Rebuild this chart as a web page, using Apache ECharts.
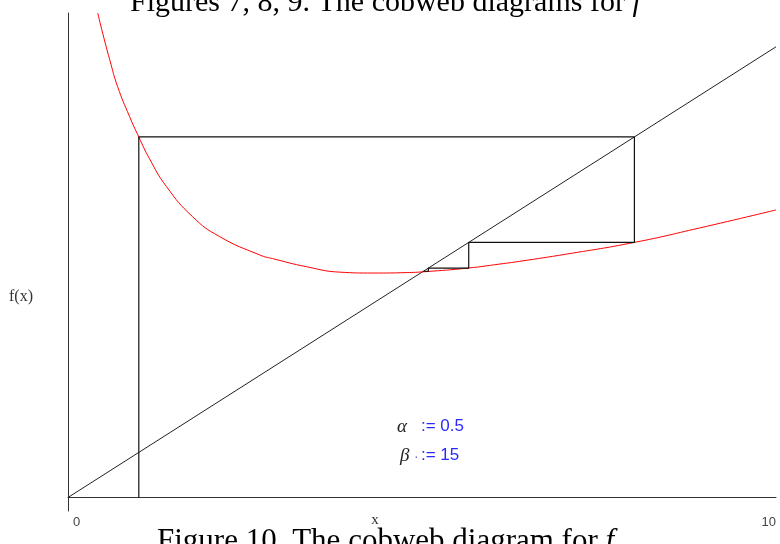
<!DOCTYPE html>
<html>
<head>
<meta charset="utf-8">
<script src="https://cdn.jsdelivr.net/npm/echarts@6/dist/echarts.min.js"></script>
<style>
  html, body { margin: 0; padding: 0; background: #fff; }
  #chart { width: 780px; height: 544px; }
</style>
</head>
<body>
<div id="chart"></div>
<script>
// f(x) sampled along the curve
const curveX = [0.42, 0.49, 0.59, 0.70, 0.87, 1.00, 1.15, 1.39, 1.76, 2.14, 2.71, 2.89, 3.37, 3.84, 4.31, 4.78, 5.04, 5.65, 6.10, 6.38, 7.04, 8.00, 8.92, 10.00];
const curveY = [10.75, 10.30, 9.71, 9.12, 8.45, 8.00, 7.52, 6.90, 6.23, 5.79, 5.38, 5.30, 5.12, 5.00, 4.98, 4.99, 5.01, 5.09, 5.18, 5.24, 5.40, 5.66, 5.98, 6.38];

// identity line y = x
const diagX = [0, 10];
const diagY = [0, 10];

// cobweb iterations starting from x0 = 1
const cobwebX = [1, 1, 8.00, 8.00, 5.66, 5.66, 5.09, 5.09, 5.02];
const cobwebY = [0, 8.00, 8.00, 5.66, 5.66, 5.09, 5.09, 5.02, 5.02];

// axis tick labels
const xTickValues = [0, 10];
const xTickLabels = ['0', '10'];

// parameters
const paramNames = ['α', 'β'];
const paramValues = [0.5, 15];

const titleText = 'Figures 7, 8, 9. The cobweb diagrams for ';
const captionText = 'Figure 10. The cobweb diagram for ';

const zip = (xs, ys) => xs.map((x, i) => [x, ys[i]]);

const chart = echarts.init(document.getElementById('chart'), null, { renderer: 'canvas' });

const serif = '"Liberation Serif", "DejaVu Serif", serif';
const sans = '"Liberation Sans", Arial, sans-serif';

chart.setOption({
  animation: false,
  backgroundColor: '#fff',
  grid: { left: 68, right: 4, top: 13, bottom: 33, containLabel: false, outerBoundsMode: 'none' },
  xAxis: {
    type: 'value', min: 0, max: 10, interval: 10,
    axisLine: { show: true, onZero: true, lineStyle: { color: '#333', width: 1 } },
    axisTick: { show: false },
    splitLine: { show: false },
    axisLabel: {
      margin: 5, color: '#444', fontFamily: sans, fontSize: 13,
      alignMinLabel: 'left', alignMaxLabel: 'right',
      padding: [0, 0, 0, 5],
      formatter: v => { const i = xTickValues.indexOf(v); return i >= 0 ? xTickLabels[i] : ''; }
    }
  },
  yAxis: {
    type: 'value', min: -0.3, max: 10.75,
    axisLine: { show: true, onZero: false, lineStyle: { color: '#333', width: 1 } },
    axisTick: { show: false },
    axisLabel: { show: false },
    splitLine: { show: false }
  },
  series: [
    {
      type: 'line', data: zip(diagX, diagY), symbol: 'none',
      lineStyle: { color: '#222', width: 1 }, z: 2
    },
    {
      type: 'line', data: zip(curveX, curveY), symbol: 'none',
      smooth: true,
      lineStyle: { color: '#ff0000', width: 1 }, z: 3
    },
    {
      type: 'line', data: zip(cobwebX, cobwebY), symbol: 'none',
      lineStyle: { color: '#111', width: 1.2 }, z: 4
    }
  ],
  graphic: [
    {
      type: 'text', left: 130, top: -12,
      style: {
        text: '{n|' + titleText + '}{i|f}',
        rich: {
          n: { fontFamily: serif, fontSize: 30, fill: '#000' },
          i: { fontFamily: serif, fontSize: 30, fontStyle: 'italic', fill: '#000' }
        }
      }
    },
    {
      type: 'text', left: 157, top: 526,
      style: {
        text: '{n|' + captionText + '}{i|f}',
        rich: {
          n: { fontFamily: serif, fontSize: 31, fill: '#000' },
          i: { fontFamily: serif, fontSize: 31, fontStyle: 'italic', fill: '#000' }
        }
      }
    },
    {
      type: 'text', x: 375, y: 520,
      style: { text: 'x', fontFamily: serif, fontSize: 15, fill: '#333', align: 'center', verticalAlign: 'middle' }
    },
    {
      type: 'text', x: 9, y: 297,
      style: { text: 'f(x)', fontFamily: serif, fontSize: 16, fill: '#333', verticalAlign: 'middle' }
    },
    {
      type: 'text', x: 397, y: 436,
      style: { text: paramNames[0], fontFamily: serif, fontStyle: 'italic', fontSize: 19, fill: '#222', verticalAlign: 'bottom' }
    },
    {
      type: 'text', x: 421, y: 435,
      style: { text: ':= ' + paramValues[0], fontFamily: sans, fontSize: 17, fill: '#2a2aff', verticalAlign: 'bottom' }
    },
    {
      type: 'text', x: 400, y: 465,
      style: { text: paramNames[1], fontFamily: serif, fontStyle: 'italic', fontSize: 19, fill: '#222', verticalAlign: 'bottom' }
    },
    {
      type: 'text', x: 414, y: 464,
      style: { text: '·', fontFamily: sans, fontSize: 14, fill: '#6666cc', verticalAlign: 'bottom' }
    },
    {
      type: 'text', x: 421, y: 464,
      style: { text: ':= ' + paramValues[1], fontFamily: sans, fontSize: 17, fill: '#2a2aff', verticalAlign: 'bottom' }
    }
  ]
});
</script>
</body>
</html>
